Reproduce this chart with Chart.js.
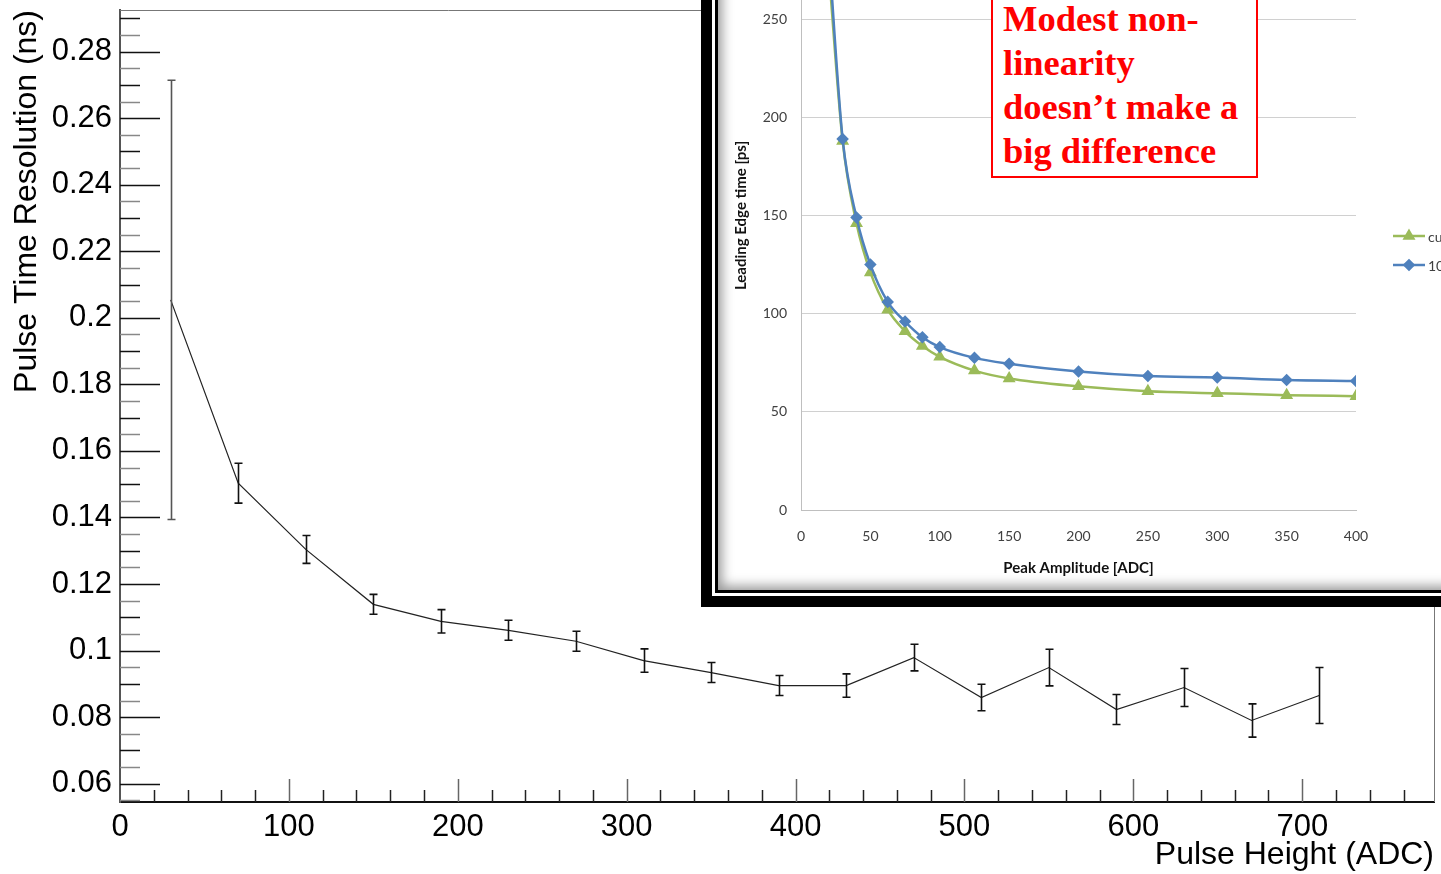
<!DOCTYPE html>
<html>
<head>
<meta charset="utf-8">
<script src="https://cdn.jsdelivr.net/npm/chart.js@4.4.0/dist/chart.umd.min.js"></script>
<style>
  html, body { margin: 0; padding: 0; background: #fff; overflow: hidden; width: 1441px; height: 874px; }
  #main { position: absolute; left: 0; top: 0; }
  #inset { position: absolute; left: 701px; top: -110px; width: 800px; height: 717px;
           box-sizing: border-box; border: 11px solid #000; padding: 3px; background: #fff; }
  #insetInner { position: relative; width: 100%; height: 100%; box-sizing: border-box;
                border: 3px solid #000; background: #fff; }
  #insetChart { position: absolute; left: 0; top: 0; }
  #shade { position: absolute; left: 0; top: 0; right: 0; bottom: 0; pointer-events: none;
           box-shadow: inset 9px -9px 12px -5px rgba(0,0,0,0.4); }
  #note { position: absolute; left: 991px; top: -8px; width: 267px; height: 186px; box-sizing: border-box;
          border: 2px solid #ff0000; background: #fff; color: #ff0000; padding: 3px 0 0 10px;
          font: bold 36.5px/44px "Liberation Serif", serif; white-space: nowrap; }
</style>
</head>
<body>
<canvas id="main" width="1441" height="874"></canvas>
<div id="inset"><div id="insetInner"><canvas id="insetChart" width="766" height="683"></canvas><div id="shade"></div></div></div>
<div id="note">Modest non-<br>linearity<br>doesn’t make a<br>big difference</div>
<script>
// main plot: time resolution vs pulse height
const pulseHeight = [30, 70, 110, 150, 190, 230, 270, 310, 350, 390, 430, 470, 510, 550, 590, 630, 670, 710];
const timeRes = [0.2054, 0.1503, 0.1304, 0.1139, 0.1088, 0.1061, 0.1028, 0.0970, 0.0934, 0.0895,
                 0.0895, 0.0979, 0.0859, 0.0949, 0.0823, 0.0889, 0.0790, 0.0865];
const timeResErr = [0.066, 0.006, 0.0042, 0.003, 0.0035, 0.003, 0.003, 0.0035, 0.003, 0.003,
                    0.0035, 0.004, 0.004, 0.0055, 0.0045, 0.0057, 0.005, 0.0084];
const xTicks = [0, 100, 200, 300, 400, 500, 600, 700];
const yTicks = [0.06, 0.08, 0.1, 0.12, 0.14, 0.16, 0.18, 0.2, 0.22, 0.24, 0.26, 0.28];

// inset: leading edge time vs peak amplitude
const peakAmp = [20, 30, 40, 50, 62.5, 75, 87.5, 100, 125, 150, 200, 250, 300, 350, 400];
const cubicTime = [275, 188, 146, 121, 102, 91, 83.5, 78, 71, 67, 63, 60.5, 59.5, 58.5, 58];
const linearTime = [285, 189, 149, 125, 106, 96, 88, 83, 77.5, 74.5, 70.5, 68.2, 67.5, 66.2, 65.7];
const seriesNames = ['cubic', '10% linear'];

const FONT = 'Liberation Sans, Arial, sans-serif';

// ROOT style ticks drawn inside the frame
const rootTicks = {
  id: 'rootTicks',
  afterDraw(chart) {
    const { ctx, chartArea: a, scales: { x, y } } = chart;
    ctx.save();
    // top and right frame
    ctx.strokeStyle = '#777';
    ctx.lineWidth = 1;
    ctx.beginPath();
    ctx.moveTo(a.left, a.top + 0.5);
    ctx.lineTo(a.right + 0.5, a.top + 0.5);
    ctx.lineTo(a.right + 0.5, a.bottom);
    ctx.stroke();
    // x ticks
    for (let v = 20; v < x.max; v += 20) {
      const px = Math.round(x.getPixelForValue(v)) + 0.5;
      const len = v % 100 === 0 ? 23 : 12;
      ctx.strokeStyle = v % 100 === 0 ? '#666' : '#222';
      ctx.lineWidth = 1.5;
      ctx.beginPath();
      ctx.moveTo(px, a.bottom);
      ctx.lineTo(px, a.bottom - len);
      ctx.stroke();
    }
    // y ticks
    for (let k = 11; k * 0.005 < y.max; k++) {
      const v = k * 0.005;
      if (v < y.min) continue;
      const py = Math.round(y.getPixelForValue(v)) + 0.5;
      const len = k % 4 === 0 ? 40 : 20;
      ctx.strokeStyle = k % 2 === 0 ? '#111' : '#888';
      ctx.lineWidth = 1.5;
      ctx.beginPath();
      ctx.moveTo(a.left, py);
      ctx.lineTo(a.left + len, py);
      ctx.stroke();
    }
    ctx.restore();
  }
};

// vertical error bars with small caps
const errorBars = {
  id: 'errorBars',
  afterDatasetsDraw(chart) {
    const { ctx, scales: { x, y } } = chart;
    ctx.save();
    ctx.lineWidth = 1.6;
    pulseHeight.forEach((h, i) => {
      const px = Math.round(x.getPixelForValue(h)) + 0.5;
      const top = y.getPixelForValue(timeRes[i] + timeResErr[i]);
      const bot = y.getPixelForValue(timeRes[i] - timeResErr[i]);
      ctx.strokeStyle = i === 0 ? '#555' : '#111';
      ctx.beginPath();
      ctx.moveTo(px, top); ctx.lineTo(px, bot);
      ctx.moveTo(px - 4, top); ctx.lineTo(px + 4, top);
      ctx.moveTo(px - 4, bot); ctx.lineTo(px + 4, bot);
      ctx.stroke();
    });
    ctx.restore();
  }
};

new Chart(document.getElementById('main'), {
  type: 'line',
  data: {
    datasets: [{
      data: pulseHeight.map((h, i) => ({ x: h, y: timeRes[i] })),
      borderColor: '#222',
      borderWidth: 1.2,
      pointRadius: 0,
      tension: 0
    }]
  },
  options: {
    responsive: false,
    animation: false,
    events: [],
    layout: { padding: { top: 10, right: 7, left: 0, bottom: 0 } },
    plugins: { legend: { display: false }, tooltip: { enabled: false } },
    scales: {
      x: {
        type: 'linear', min: 0, max: 778,
        afterBuildTicks: s => { s.ticks = xTicks.map(v => ({ value: v })); },
        afterFit: s => { s.height = 72; s.paddingLeft = 0; s.paddingRight = 0; },
        grid: { display: false, drawTicks: false },
        border: { color: '#111', width: 2 },
        ticks: { font: { family: FONT, size: 31 }, color: '#000', padding: 7, maxRotation: 0, autoSkip: false },
        title: { display: true, text: 'Pulse Height (ADC)', align: 'end', color: '#000',
                 font: { family: FONT, size: 32 }, padding: 0 }
      },
      y: {
        type: 'linear', min: 0.0545, max: 0.2925,
        afterBuildTicks: s => { s.ticks = yTicks.map(v => ({ value: v })); },
        afterFit: s => { s.width = 120; s.paddingTop = 0; s.paddingBottom = 0; },
        grid: { display: false, drawTicks: false },
        border: { color: '#555', width: 2 },
        ticks: { font: { family: FONT, size: 31 }, color: '#000', padding: 8,
                 callback: v => String(+v.toFixed(2)) },
        title: { display: true, text: 'Pulse Time Resolution (ns)', align: 'end', color: '#000',
                 font: { family: FONT, size: 32 }, padding: { top: 8 } }
      }
    }
  },
  plugins: [rootTicks, errorBars]
});

// legend drawn at the right edge of the inset (partly cut by the page)
const insetLegend = {
  id: 'insetLegend',
  afterDraw(chart) {
    const { ctx } = chart;
    ctx.save();
    chart.data.datasets.forEach((ds, n) => {
      const y = 329 + n * 29;
      ctx.strokeStyle = ds.borderColor;
      ctx.lineWidth = 2.5;
      ctx.beginPath();
      ctx.moveTo(675, y); ctx.lineTo(707, y);
      ctx.stroke();
      ctx.fillStyle = ds.borderColor;
      Chart.helpers.drawPoint(ctx, { pointStyle: ds.pointStyle, radius: ds.pointRadius, rotation: 0, borderWidth: 1 }, 691, y);
      ctx.fillStyle = '#404040';
      ctx.font = '14px Lato, sans-serif';
      ctx.textBaseline = 'middle';
      ctx.fillText(ds.label, 710, y + 1);
    });
    ctx.restore();
  }
};

const INSET_FONT = 'Lato, Open Sans, sans-serif';

new Chart(document.getElementById('insetChart'), {
  type: 'line',
  data: {
    datasets: [{
      label: seriesNames[0],
      data: peakAmp.map((p, i) => ({ x: p, y: cubicTime[i] })),
      borderColor: '#9bbb59', backgroundColor: '#9bbb59',
      borderWidth: 2.5, pointStyle: 'triangle', pointRadius: 5,
      cubicInterpolationMode: 'monotone', order: 1
    }, {
      label: seriesNames[1],
      data: peakAmp.map((p, i) => ({ x: p, y: linearTime[i] })),
      borderColor: '#4f81bd', backgroundColor: '#4f81bd',
      borderWidth: 2.5, pointStyle: 'rectRot', pointRadius: 4.5,
      cubicInterpolationMode: 'monotone', order: 0
    }]
  },
  options: {
    responsive: false,
    animation: false,
    events: [],
    layout: { padding: { top: 14, right: 128, left: 0, bottom: 0 } },
    plugins: { legend: { display: false }, tooltip: { enabled: false } },
    scales: {
      x: {
        type: 'linear', min: 0, max: 400,
        afterFit: s => { s.height = 80; s.paddingLeft = 0; s.paddingRight = 0; },
        grid: { display: false, drawTicks: false },
        border: { color: '#bfbfbf', width: 1 },
        ticks: { stepSize: 50, font: { family: INSET_FONT, size: 14 }, color: '#404040', padding: 18, maxRotation: 0 },
        title: { display: true, text: 'Peak Amplitude [ADC]', color: '#111',
                 font: { family: INSET_FONT, size: 15, weight: 'bold' }, padding: { bottom: 13 } }
      },
      y: {
        type: 'linear', min: 0, max: 300,
        afterFit: s => { s.width = 83; s.paddingTop = 0; s.paddingBottom = 0; },
        grid: { color: '#d0d0d0', drawTicks: false },
        border: { color: '#bfbfbf', width: 1 },
        ticks: { stepSize: 50, font: { family: INSET_FONT, size: 14 }, color: '#404040', padding: 14 },
        title: { display: true, text: 'Leading Edge time [ps]', color: '#111',
                 font: { family: INSET_FONT, size: 15, weight: 'bold' }, padding: { top: 14 } }
      }
    }
  },
  plugins: [insetLegend]
});
</script>
</body>
</html>
